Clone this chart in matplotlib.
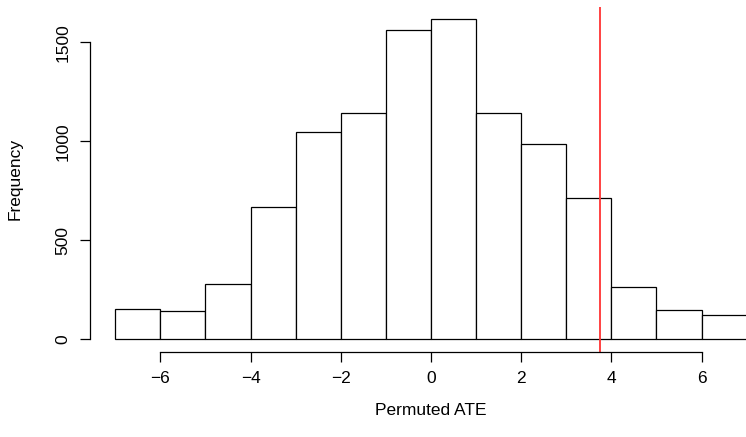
import matplotlib.pyplot as plt

plt.rcParams['font.family'] = ['Liberation Sans', 'DejaVu Sans']

# histogram of permuted ATE (bins of width 1)
bin_edges = [-7, -6, -5, -4, -3, -2, -1, 0, 1, 2, 3, 4, 5, 6, 7]
counts = [152, 143, 279, 666, 1047, 1144, 1563, 1615, 1144, 986, 714, 266, 147, 123]
observed_ate = 3.75

x_ticks = [-6, -4, -2, 0, 2, 4, 6]
y_ticks = [0, 500, 1000, 1500]

fig = plt.figure(figsize=(7.46, 4.37), dpi=100)
ax = fig.add_axes([0.1206, 0.1945, 0.9142, 0.7902])

lefts = bin_edges[:-1]
widths = [b - a for a, b in zip(bin_edges[:-1], bin_edges[1:])]
ax.bar(lefts, counts, width=widths, align='edge', color='white',
       edgecolor='black', linewidth=0.9)
ax.axvline(observed_ate, color='#ff3333', linewidth=1.3)

# R-style axis ranges (4% padding)
xr = bin_edges[-1] - bin_edges[0]
ax.set_xlim(bin_edges[0] - 0.04 * xr, bin_edges[-1] + 0.04 * xr)
ymax = max(counts)
ax.set_ylim(-0.04 * ymax, ymax * 1.04)

for s in ['top', 'right']:
    ax.spines[s].set_visible(False)
ax.spines['left'].set_bounds(y_ticks[0], y_ticks[-1])
ax.spines['bottom'].set_bounds(x_ticks[0], x_ticks[-1])
ax.spines['left'].set_linewidth(0.9)
ax.spines['bottom'].set_linewidth(0.9)

ax.set_xticks(x_ticks)
ax.set_xticklabels([str(t).replace('-', '\u2212') for t in x_ticks])
ax.set_yticks(y_ticks)
ax.set_yticklabels([str(t) for t in y_ticks], rotation=90, va='center')
ax.tick_params(length=7, width=0.9, labelsize=12.5, pad=7)

ax.set_xlabel('Permuted ATE', fontsize=12.5, labelpad=12)
ax.set_ylabel('Frequency', fontsize=12.5, labelpad=24)

fig.savefig('out.png', dpi=100)
